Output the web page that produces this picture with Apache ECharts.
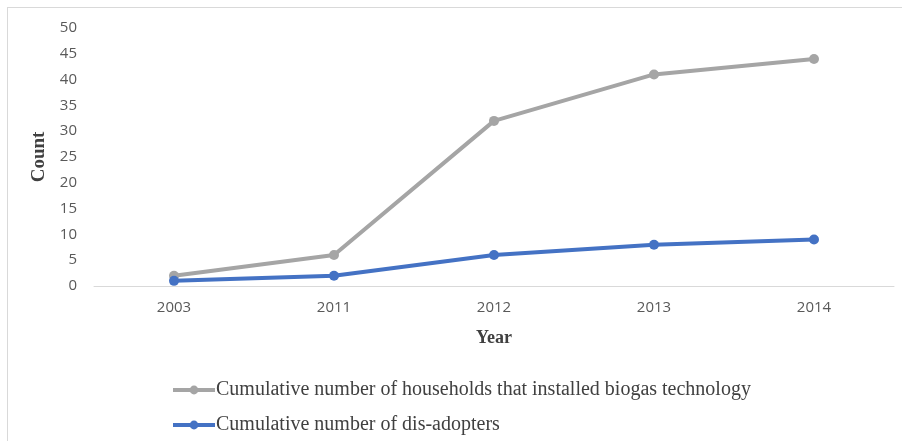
<!DOCTYPE html>
<html lang="en">
<head>
  <meta charset="UTF-8">
  <script src="https://cdn.jsdelivr.net/npm/echarts@6/dist/echarts.min.js"></script>
  <style>
    * {margin: 0; padding: 0;}
    html, body {width: 100%; height: 100%; overflow: hidden; background: #fff;}
    #frame {position: absolute; left: 7px; top: 7px; width: 900px; height: 440px; border: 1px solid #d9d9d9;}
    #chart {position: absolute; left: 0; top: 0; width: 902px; height: 441px;}
  </style>
</head>
<body>
  <div id="frame"></div>
  <div id="chart"></div>
<script>
var years = ['2003', '2011', '2012', '2013', '2014']
var installed = [2, 6, 32, 41, 44]
var disAdopters = [1, 2, 6, 8, 9]
var installedName = 'Cumulative number of households that installed biogas technology'
var disName = 'Cumulative number of dis-adopters'

var chart = echarts.init(document.getElementById('chart'))
chart.setOption({
  animation: false,
  grid: {left: 94, right: 8, top: 28, bottom: 155},
  legend: {
    orient: 'vertical',
    left: 166,
    top: 375,
    itemGap: 15,
    itemWidth: 42,
    itemHeight: 11,
    lineStyle: {width: 4},
    textStyle: {fontFamily: 'Liberation Serif', fontSize: 20, color: '#404040', padding: [0, 0, 0, -4]},
    data: [installedName, disName]
  },
  xAxis: {
    type: 'category',
    data: years,
    name: 'Year',
    nameLocation: 'middle',
    nameGap: 43,
    nameTextStyle: {fontFamily: 'Liberation Serif', fontWeight: 'bold', fontSize: 18, color: '#404040'},
    axisLine: {lineStyle: {color: '#d9d9d9', width: 1}},
    axisTick: {show: false},
    axisLabel: {fontFamily: 'Open Sans', fontSize: 15, color: '#595959', margin: 14}
  },
  yAxis: {
    type: 'value',
    min: 0,
    max: 50,
    interval: 5,
    name: 'Count',
    nameLocation: 'middle',
    nameGap: 42,
    nameRotate: 90,
    nameTextStyle: {fontFamily: 'Liberation Serif', fontWeight: 'bold', fontSize: 19, color: '#404040'},
    axisLine: {show: false},
    axisTick: {show: false},
    splitLine: {show: false},
    axisLabel: {fontFamily: 'Open Sans', fontSize: 15, color: '#595959', margin: 17}
  },
  series: [
    {
      name: installedName,
      type: 'line',
      data: installed,
      symbol: 'circle',
      symbolSize: 10,
      lineStyle: {width: 4, color: '#a5a5a5'},
      itemStyle: {color: '#a5a5a5'}
    },
    {
      name: disName,
      type: 'line',
      data: disAdopters,
      symbol: 'circle',
      symbolSize: 10,
      lineStyle: {width: 4, color: '#4472c4'},
      itemStyle: {color: '#4472c4'}
    }
  ]
})
</script>
</body>
</html>
